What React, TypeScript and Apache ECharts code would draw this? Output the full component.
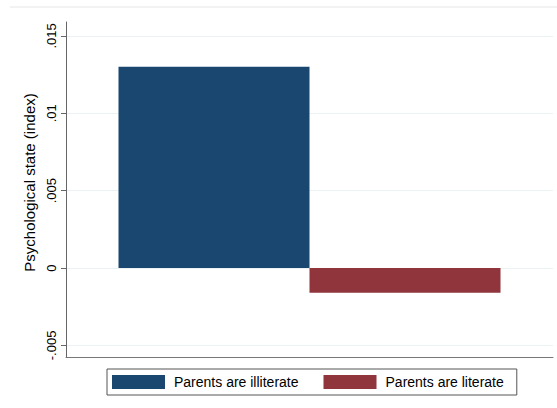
import React, { useEffect, useRef } from "react";
import * as echarts from "echarts";

const seriesNames = ["Parents are illiterate", "Parents are literate"];
const illiterateValues = [0.013];
const literateValues = [-0.0016];
const yTicks = [-0.005, 0, 0.005, 0.01, 0.015];
const yTickLabels: Record<string, string> = {
  "-0.005": "-.005",
  "0": "0",
  "0.005": ".005",
  "0.01": ".01",
  "0.015": ".015",
};
const colors = ["#1a476f", "#90353b"];

export default function App() {
  const ref = useRef<HTMLDivElement>(null);
  useEffect(() => {
    if (!ref.current) return;
    const chart = echarts.init(ref.current, undefined, { renderer: "svg" });
    const font = "'Liberation Sans', Arial, sans-serif";
    chart.setOption({
      animation: false,
      backgroundColor: "#ffffff",
      grid: { left: 66, right: 4, top: 22, bottom: 51 },
      graphic: [
        {
          type: "line",
          shape: { x1: 10, y1: 7, x2: 557, y2: 7 },
          style: { stroke: "#e6e6e6", lineWidth: 1 },
        },
      ],
      legend: {
        data: seriesNames,
        left: 107,
        top: 369,
        orient: "horizontal",
        itemWidth: 53,
        itemHeight: 14,
        itemGap: 25,
        padding: [6, 13, 6, 5],
        borderColor: "#555",
        borderWidth: 1,
        icon: "rect",
        selectedMode: false,
        textStyle: { fontFamily: font, fontSize: 14, color: "#000", padding: [0, 0, 0, 4] },
      },
      xAxis: {
        type: "category",
        data: [""],
        axisLine: { show: true, onZero: false, lineStyle: { color: "#777", width: 1 } },
        axisTick: { show: false },
        axisLabel: { show: false },
        splitLine: { show: false },
      },
      yAxis: {
        type: "value",
        min: -0.00575,
        max: 0.0159,
        name: "Psychological state (index)",
        nameLocation: "middle",
        nameGap: 29,
        nameMoveOverlap: false,
        nameTextStyle: { fontFamily: font, fontSize: 15, color: "#000", padding: [0, 0, 0, 14] },
        axisLine: { show: true, lineStyle: { color: "#666", width: 1 } },
        axisTick: {
          show: true,
          length: 5,
          customValues: yTicks,
          lineStyle: { color: "#666" },
        },
        axisLabel: {
          customValues: yTicks,
          rotate: 90,
          margin: 8,
          fontFamily: font,
          fontSize: 13,
          color: "#000",
          formatter: (v: number) => yTickLabels[String(v)] ?? String(v),
        },
        splitLine: { show: true, lineStyle: { color: "#eaf2f3", width: 1 } },
      },
      series: [
        {
          name: seriesNames[0],
          type: "bar",
          data: illiterateValues,
          barWidth: 191,
          barGap: "0%",
          itemStyle: { color: colors[0] },
        },
        {
          name: seriesNames[1],
          type: "bar",
          data: literateValues,
          barWidth: 191,
          barGap: "0%",
          itemStyle: { color: colors[1] },
        },
      ],
    });
    return () => chart.dispose();
  }, []);
  return <div ref={ref} style={{ width: 557, height: 408, position: "absolute", left: 0, top: 0 }} />;
}
